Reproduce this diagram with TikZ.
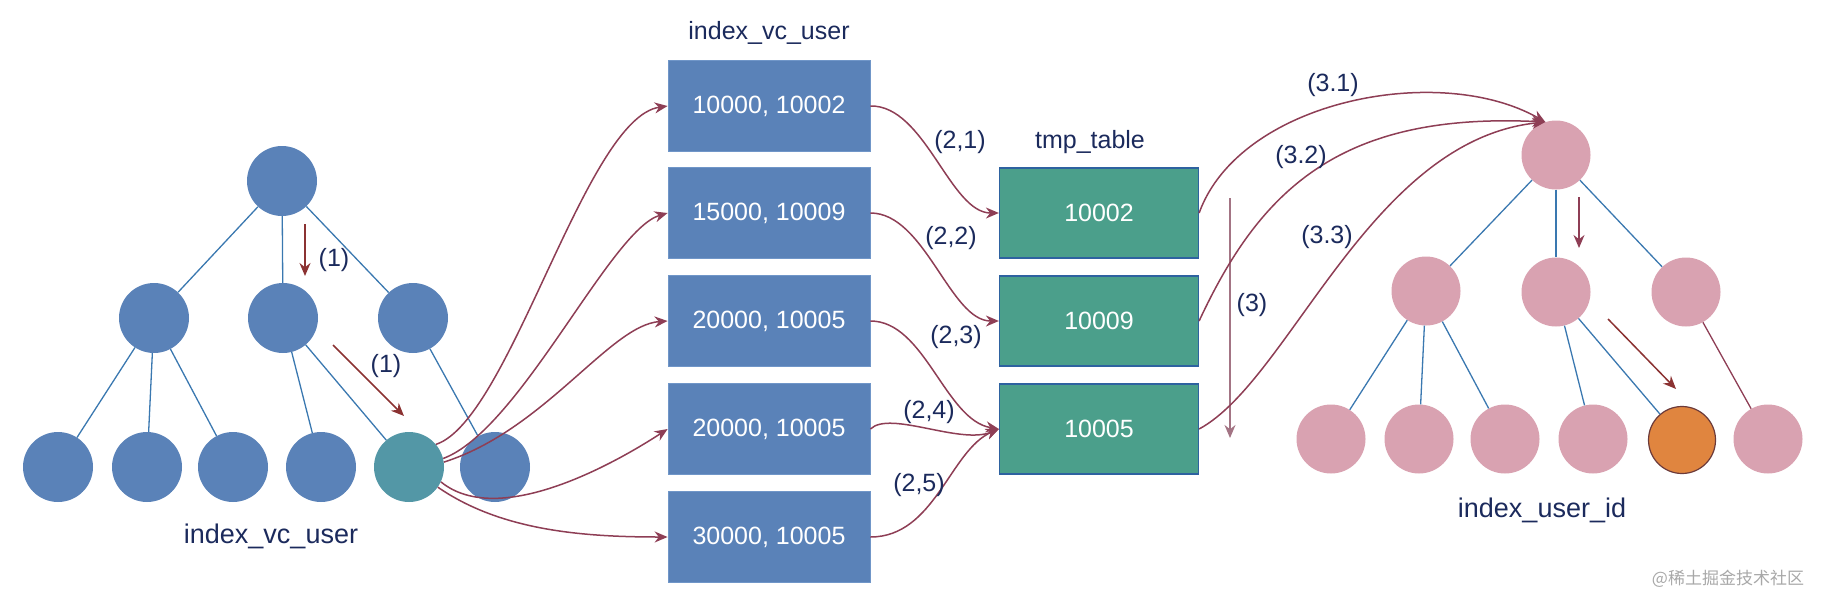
\documentclass[tikz,border=0pt]{standalone}
\usepackage{fontspec}
\setmainfont{Liberation Sans}
\newfontfamily\cjkfont{Noto Sans CJK SC}
\usetikzlibrary{arrows.meta}
\definecolor{nblue}{HTML}{5A82B8}
\definecolor{nblueb}{HTML}{7096C8}
\definecolor{nteal}{HTML}{5397A6}
\definecolor{ngreen}{HTML}{4B9F8B}
\definecolor{gborder}{HTML}{2E62A0}
\definecolor{npink}{HTML}{D9A2B1}
\definecolor{norange}{HTML}{E0853F}
\definecolor{oborder}{HTML}{6B3A3A}
\definecolor{tblue}{HTML}{3A78B0}
\definecolor{cmaroon}{HTML}{8E3E55}
\definecolor{cmauve}{HTML}{A37484}
\definecolor{cred}{HTML}{8B3232}
\definecolor{navy}{HTML}{1B2A5C}
\definecolor{wgray}{HTML}{A8A8A8}
\begin{document}
\begin{tikzpicture}[x=1pt,y=-1pt,
  bnode/.style={circle,fill=nblue,minimum size=70pt,inner sep=0pt},
  pnode/.style={circle,fill=npink,minimum size=69pt,inner sep=0pt},
  tline/.style={draw=tblue,line width=1.3pt},
  curve/.style={draw=cmaroon,line width=1.5pt,-{Stealth[length=13pt,width=11pt]}},
  redarrow/.style={draw=cred,line width=1.5pt,-{Stealth[length=13pt,width=11pt]}},
  lbl/.style={text=navy,font=\fontsize{25}{30}\selectfont,inner sep=0pt},
  bigl/.style={text=navy,font=\fontsize{27}{32}\selectfont,inner sep=0pt},
  vbox/.style={rectangle,fill=nblue,draw=nblueb,line width=0.8pt,minimum width=202pt,minimum height=91pt,inner sep=0pt,text=white,font=\fontsize{25}{30}\selectfont},
  gbox/.style={rectangle,fill=ngreen,draw=gborder,line width=1.2pt,minimum width=199pt,minimum height=90pt,inner sep=0pt,text=white,font=\fontsize{25}{30}\selectfont}
]
\useasboundingbox (0,0) rectangle (1828,608);

% ---------- left tree ----------
\node[bnode] (lr) at (282,181) {};
\node[bnode] (la) at (154,318) {};
\node[bnode] (lb) at (283,318) {};
\node[bnode] (lc) at (413,318) {};
\node[bnode] (l1) at (58,467) {};
\node[bnode] (l2) at (147,467) {};
\node[bnode] (l3) at (233,467) {};
\node[bnode] (l4) at (321,467) {};
\node[bnode,fill=nteal] (teal) at (409,467) {};
\node[bnode] (l6) at (495,467) {};
\draw[tline] (lr) -- (la);
\draw[tline] (lr) -- (lb);
\draw[tline] (lr) -- (lc);
\draw[tline] (la) -- (l1);
\draw[tline] (la) -- (l2);
\draw[tline] (la) -- (l3);
\draw[tline] (lb) -- (l4);
\draw[tline] (lb) -- (teal);
\draw[tline] (lc) -- (l6);

\coordinate (a1s) at (305,224);
\coordinate (a1e) at (305,276);
\draw[redarrow] (a1s) -- (a1e);
\node[lbl] (lab1a) at (334,260) {(1)};
\coordinate (a2s) at (333,345);
\coordinate (a2e) at (404,416);
\draw[redarrow] (a2s) -- (a2e);
\node[lbl] (lab1b) at (386,366) {(1)};
\node[bigl] (ltitle) at (271,536) {index\_vc\_user};

% ---------- middle boxes ----------
\node[lbl] (mtitle) at (769,33) {index\_vc\_user};
\node[vbox] (b1) at (769,106) {10000, 10002};
\node[vbox] (b2) at (769,213) {15000, 10009};
\node[vbox] (b3) at (769,321) {20000, 10005};
\node[vbox] (b4) at (769,429) {20000, 10005};
\node[vbox] (b5) at (769,537) {30000, 10005};

\node[lbl] (ttitle) at (1090,142) {tmp\_table};
\node[gbox] (t1) at (1099,213) {10002};
\node[gbox] (t2) at (1099,321) {10009};
\node[gbox] (t3) at (1099,429) {10005};

% teal -> boxes
\draw[curve] (teal.40) .. controls (510,420) and (585,118) .. (b1.west);
\draw[curve] (teal.14) .. controls (520,430) and (610,230) .. (b2.west);
\draw[curve] (teal.8) .. controls (545,430) and (610,325) .. (b3.west);
\draw[curve] (teal.-25) .. controls (500,530) and (620,460) .. (b4.west);
\draw[curve] (teal.-35) .. controls (500,530) and (580,537) .. (b5.west);

% boxes -> tmp
\draw[curve] (b1.east) .. controls (925,105) and (950,213) .. (t1.west);
\node[lbl] (l21) at (960,142) {(2,1)};
\draw[curve] (b2.east) .. controls (925,213) and (950,321) .. (t2.west);
\node[lbl] (l22) at (951,238) {(2,2)};
\draw[curve] (b3.east) .. controls (925,321) and (945,420) .. (t3.west);
\node[lbl] (l23) at (956,337) {(2,3)};
\draw[curve] (b4.east) .. controls (890,410) and (960,445) .. (t3.west);
\node[lbl] (l24) at (929,412) {(2,4)};
\draw[curve] (b5.east) .. controls (935,537) and (950,450) .. (t3.west);
\node[lbl] (l25) at (919,485) {(2,5)};

% (3) vertical
\coordinate (v3s) at (1230,198);
\coordinate (v3e) at (1230,438);
\draw[draw=cmauve,line width=1.5pt,-{Stealth[length=13pt,width=11pt]}] (v3s) -- (v3e);
\node[lbl] (l3) at (1252,305) {(3)};

% ---------- right tree ----------
\node[pnode] (rr) at (1556,155) {};
\node[pnode] (ra) at (1426,291) {};
\node[pnode] (rb) at (1556,292) {};
\node[pnode] (rc) at (1686,292) {};
\node[pnode] (r1) at (1331,439) {};
\node[pnode] (r2) at (1419,439) {};
\node[pnode] (r3) at (1505,439) {};
\node[pnode] (r4) at (1593,439) {};
\node[pnode,fill=norange,draw=oborder,line width=1.2pt,minimum size=67pt] (ro) at (1682,440) {};
\node[pnode] (r6) at (1768,439) {};
\draw[tline] (rr) -- (ra);
\draw[tline] (rr) -- (rb);
\draw[tline] (rr) -- (rc);
\draw[tline] (ra) -- (r1);
\draw[tline] (ra) -- (r2);
\draw[tline] (ra) -- (r3);
\draw[tline] (rb) -- (r4);
\draw[tline] (rb) -- (ro);
\draw[draw=cmaroon,line width=1.3pt] (rc) -- (r6);
\fill[npink] (rc.108) -- ++(10,3) -- ++(-8,6) -- cycle;

\coordinate (ras) at (1579,197);
\coordinate (rae) at (1579,248);
\draw[curve] (ras) -- (rae);
\coordinate (rbs) at (1608,319);
\coordinate (rbe) at (1676,389);
\draw[redarrow] (rbs) -- (rbe);
\node[bigl] (rtitle) at (1542,510) {index\_user\_id};

% tmp -> right root
\draw[curve] (t1.east) .. controls (1240,100) and (1440,62) .. (rr.108);
\node[lbl] (l31) at (1333,85) {(3.1)};
\draw[curve] (t2.east) .. controls (1260,190) and (1340,112) .. (rr.108);
\node[lbl] (l32) at (1301,157) {(3.2)};
\draw[curve] (t3.east) .. controls (1290,380) and (1370,140) .. (rr.108);
\node[lbl] (l33) at (1327,237) {(3.3)};

% watermark
\node[text=wgray,font=\cjkfont\fontsize{17}{20}\selectfont,inner sep=0pt] (wm) at (1728,579) {@稀土掘金技术社区};
\end{tikzpicture}
\end{document}
